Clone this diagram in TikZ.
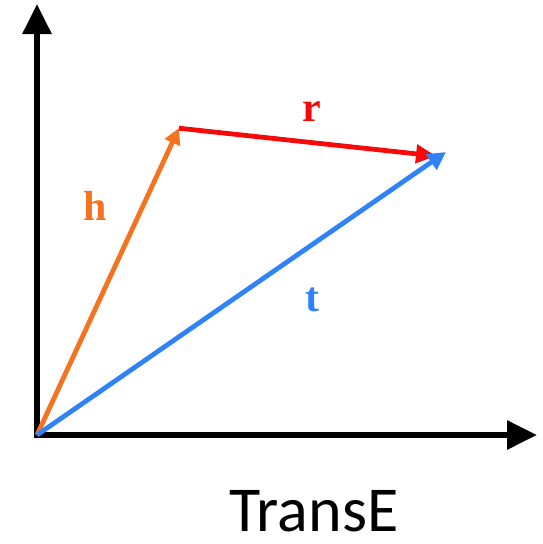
\documentclass[tikz,border=0pt]{standalone}
\usepackage{fontspec}
\setmainfont{Liberation Serif}
\newfontfamily\calib{Carlito}
\usetikzlibrary{arrows.meta}
\definecolor{horange}{HTML}{F5731E}
\definecolor{rred}{HTML}{F50A0A}
\definecolor{tblue}{HTML}{2F83F7}
\tikzset{
  axis/.style={line width=6pt, -{Triangle[length=30pt,width=28pt]}},
  vec/.style={line width=4.8pt},
  lab/.style={font=\fontsize{42}{44}\selectfont\bfseries, inner sep=0pt},
}
\begin{document}
\begin{tikzpicture}[x=1pt,y=-1pt]
\useasboundingbox (0,0) rectangle (542,544);
\coordinate (O) at (37,435);
\coordinate (Y) at (37,4);
\coordinate (X) at (537,435);
\coordinate (H) at (179,128);
\coordinate (T) at (446,152);
\draw[axis] (O) -- (Y);
\draw[axis] ([xshift=-3pt]O) -- (X);
\draw[vec, horange, -{Triangle[length=16pt,width=16pt]}] (O) -- (H);
\draw[vec, rred, shorten <=2pt, -{Triangle[length=20pt,width=18pt]}] ([xshift=-2pt]H) -- (436,156);
\draw[vec, tblue, -{Triangle[length=18pt,width=18pt]}] (O) -- (T);
\node[lab, text=horange] (hl) at (95,206) {h};
\node[lab, text=rred] (rl) at (312,112) {r};
\node[lab, text=tblue] (tl) at (312,300) {t};
\node[inner sep=0pt, font=\calib\fontsize{64}{68}\selectfont] (title) at (314,511) {TransE};
\end{tikzpicture}
\end{document}
